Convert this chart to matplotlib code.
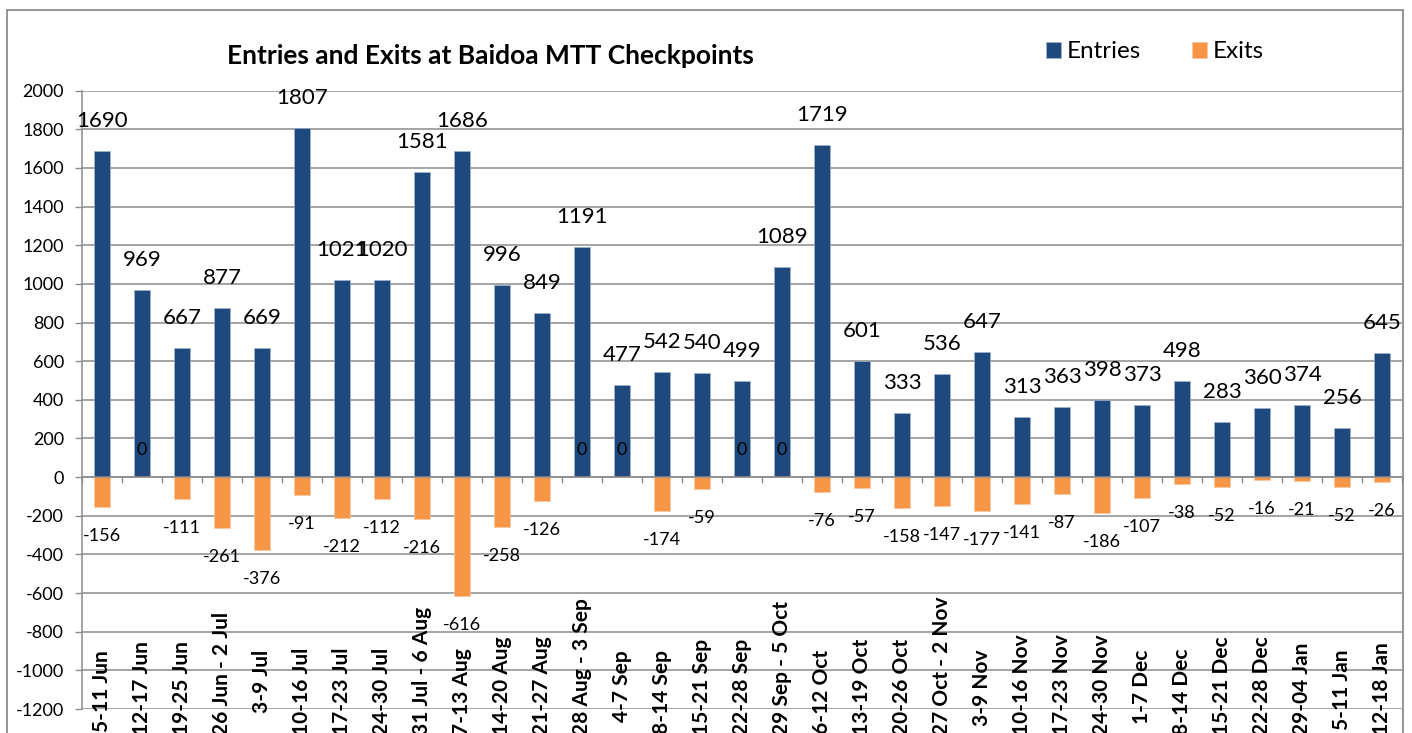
import numpy as np
import matplotlib
matplotlib.use("Agg")
import matplotlib.pyplot as plt
from matplotlib.patches import Rectangle
from matplotlib.transforms import blended_transform_factory

weeks = ["5-11 Jun", "12-17 Jun", "19-25 Jun", "26 Jun - 2 Jul", "3-9 Jul",
         "10-16 Jul", "17-23 Jul", "24-30 Jul", "31 Jul - 6 Aug", "7-13 Aug",
         "14-20 Aug", "21-27 Aug", "28 Aug - 3 Sep", "4-7 Sep", "8-14 Sep",
         "15-21 Sep", "22-28 Sep", "29 Sep - 5 Oct", "6-12 Oct", "13-19 Oct",
         "20-26 Oct", "27 Oct - 2 Nov", "3-9 Nov", "10-16 Nov", "17-23 Nov",
         "24-30 Nov", "1-7 Dec", "8-14 Dec", "15-21 Dec", "22-28 Dec",
         "29-04 Jan", "5-11 Jan", "12-18 Jan"]
entries = [1690, 969, 667, 877, 669, 1807, 1021, 1020, 1581, 1686, 996, 849,
           1191, 477, 542, 540, 499, 1089, 1719, 601, 333, 536, 647, 313, 363,
           398, 373, 498, 283, 360, 374, 256, 645]
exits = [-156, 0, -111, -261, -376, -91, -212, -112, -216, -616, -258, -126,
         0, 0, -174, -59, 0, 0, -76, -57, -158, -147, -177, -141, -87, -186,
         -107, -38, -52, -16, -21, -52, -26]
yticks = list(range(-1200, 2001, 200))

BLUE = "#1F497D"
ORANGE = "#F79646"
GRID = "#8c8c8c"

plt.rcParams.update({"font.family": "Lato", "axes.unicode_minus": False})

W, H = 1412, 733
AX_TOP, AX_BOT = 90.7, 709.0          # plot area edges, pixels from top
fig = plt.figure(figsize=(W / 100, H / 100), dpi=100, facecolor="white")
ax = fig.add_axes([82 / W, 1 - AX_BOT / H, (1402 - 82) / W, (AX_BOT - AX_TOP) / H])

x = np.arange(len(weeks))
b1 = ax.bar(x, entries, width=0.4, color=BLUE, edgecolor="#9fb3cf", linewidth=0.5,
            label="Entries", zorder=3)
b2 = ax.bar(x, exits, width=0.4, color=ORANGE, edgecolor="#fbc8a0", linewidth=0.5,
            label="Exits", zorder=3)

# value labels
for xi, v in zip(x, entries):
    ax.annotate(str(v), (xi, v), xytext=(0, 30), textcoords="offset pixels",
                ha="center", va="center", fontsize=16, color="black", zorder=5)
for xi, v in zip(x, exits):
    off = 27 if v == 0 else -29
    ax.annotate(str(v), (xi, v), xytext=(0, off), textcoords="offset pixels",
                ha="center", va="center", fontsize=13, color="black", zorder=5)

ax.set_xlim(-0.5, len(weeks) - 0.5)
ax.set_ylim(-1200, 2000)
ax.set_yticks(yticks)
ax.yaxis.grid(True, color=GRID, linewidth=1.1, zorder=0)
ax.set_axisbelow(True)
ax.tick_params(axis="y", length=5, width=1, color=GRID, labelsize=13, pad=8)

for s in ["top", "right"]:
    ax.spines[s].set_visible(False)
ax.spines["left"].set_color(GRID)
ax.spines["left"].set_linewidth(1.1)
ax.spines["bottom"].set_position(("data", 0))
ax.spines["bottom"].set_color(GRID)
ax.spines["bottom"].set_linewidth(1.1)
ax.spines["bottom"].set_zorder(4)
ax.set_xticks(np.arange(-0.5, len(weeks), 1.0))
ax.set_xticklabels([])
ax.tick_params(axis="x", length=4, width=1, color=GRID, direction="out")

# category labels at the bottom of the plot area: long ones run off the
# bottom edge, short ones hang from a common top line
def px2ax(p):
    return (AX_BOT - p) / (AX_BOT - AX_TOP)

trans = blended_transform_factory(ax.transData, ax.transAxes)
cat_texts = [ax.text(xi, px2ax(735), lab, transform=trans, rotation=90,
                     ha="center", va="bottom", fontsize=15, fontweight="bold",
                     clip_on=False, zorder=5)
             for xi, lab in zip(x, weeks)]
fig.canvas.draw()
renderer = fig.canvas.get_renderer()
for t in cat_texts:
    top_px = H - t.get_window_extent(renderer).y1
    if top_px > 650:
        t.set_va("top")
        t.set_y(px2ax(650))

fig.text(490 / W, 1 - 56 / H, "Entries and Exits at Baidoa MTT Checkpoints",
         ha="center", va="center", fontsize=19, fontweight="bold")

fig.legend(handles=[b1, b2], labels=["Entries", "Exits"], loc="center",
           bbox_to_anchor=(1155 / W, 1 - 52 / H), ncol=2, frameon=False,
           fontsize=17.5, handlelength=0.62, handleheight=0.62, handletextpad=0.25,
           columnspacing=2.1)

# chart area border
fig.patches.append(Rectangle((7 / W, -0.1), (1402.7 - 7) / W, 1.1 - 9.7 / H,
                             transform=fig.transFigure, fill=False,
                             edgecolor="#8c8c8c", linewidth=1.3))

fig.savefig("out.png", dpi=100, facecolor="white")
